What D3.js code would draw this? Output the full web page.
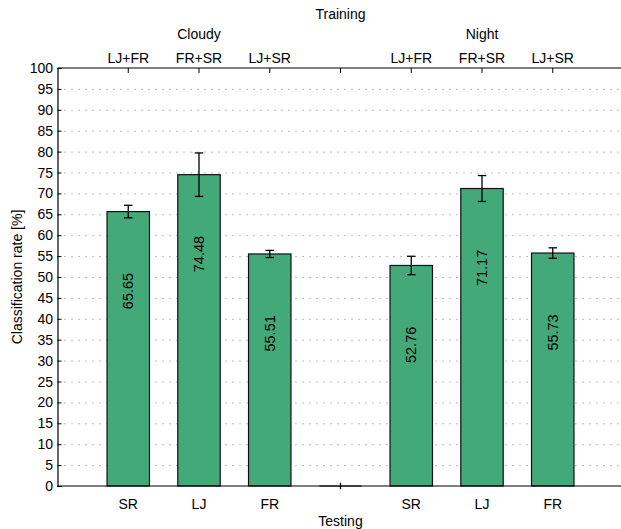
<!DOCTYPE html>
<html>
<head>
<meta charset="utf-8">
<script src="https://cdn.jsdelivr.net/npm/d3@7"></script>
<style>
  body { margin: 0; background: #fff; }
  text { font-family: "Liberation Sans", Arial, sans-serif; font-size: 14px; fill: #000; }
</style>
</head>
<body>
<svg id="chart" width="621" height="529"></svg>
<script>
// bar positions 1..7, slot 4 is the empty separator
var positions = [1, 2, 3, 4, 5, 6, 7];
var testing = ["SR", "LJ", "FR", "", "SR", "LJ", "FR"];
var training = ["LJ+FR", "FR+SR", "LJ+SR", "", "LJ+FR", "FR+SR", "LJ+SR"];
var groups = [{ name: "Cloudy", pos: 2 }, { name: "Night", pos: 6 }];
var rates = [65.65, 74.48, 55.51, 0, 52.76, 71.17, 55.73];
var errors = [1.5, 5.2, 0.85, 0.75, 2.2, 3.1, 1.25];
var yTicks = d3.range(0, 101, 5);

var svg = d3.select("#chart");

// plot box (right side runs past the picture edge, like the original)
var x = d3.scaleLinear().domain([0, 8]).range([57.5, 623.5]);
var y = d3.scaleLinear().domain([0, 100]).range([486, 68]);
var barW = x(0.6) - x(0);
var capW = x(0.12) - x(0);

// dotted grid
svg.append("g").selectAll("line")
  .data(yTicks.filter(function(d) { return d > 0 && d < 100; }))
  .enter().append("line")
  .attr("x1", x(0)).attr("x2", x(8))
  .attr("y1", function(d) { return y(d) + 0.5; })
  .attr("y2", function(d) { return y(d) + 0.5; })
  .attr("stroke", "#777")
  .attr("stroke-width", 1)
  .attr("stroke-dasharray", "1,6");

// bars
var bars = svg.append("g").selectAll("g")
  .data(positions.map(function(p, i) { return { p: p, v: rates[i], e: errors[i] }; }))
  .enter().append("g");

bars.filter(function(d) { return d.v > 0; }).append("rect")
  .attr("x", function(d) { return x(d.p) - barW / 2; })
  .attr("y", function(d) { return y(d.v); })
  .attr("width", barW)
  .attr("height", function(d) { return y(0) - y(d.v); })
  .attr("fill", "#43a978")
  .attr("stroke", "#111")
  .attr("stroke-width", 1.2);

bars.filter(function(d) { return d.v === 0; }).append("line")
  .attr("x1", function(d) { return x(d.p) - barW / 2; })
  .attr("x2", function(d) { return x(d.p) + barW / 2; })
  .attr("y1", y(0)).attr("y2", y(0))
  .attr("stroke", "#000").attr("stroke-width", 1.2);

// error bars
bars.append("line")
  .attr("x1", function(d) { return x(d.p); })
  .attr("x2", function(d) { return x(d.p); })
  .attr("y1", function(d) { return y(d.v - d.e); })
  .attr("y2", function(d) { return y(d.v + d.e); })
  .attr("stroke", "#000").attr("stroke-width", 1.3);
[-1, 1].forEach(function(s) {
  bars.filter(function(d) { return d.v > 0; }).append("line")
    .attr("x1", function(d) { return x(d.p) - capW / 2; })
    .attr("x2", function(d) { return x(d.p) + capW / 2; })
    .attr("y1", function(d) { return y(d.v + s * d.e); })
    .attr("y2", function(d) { return y(d.v + s * d.e); })
    .attr("stroke", "#000").attr("stroke-width", 1.3);
});

// value labels inside the bars, rotated
bars.filter(function(d) { return d.v > 0; }).append("text")
  .attr("transform", function(d) {
    return "translate(" + (x(d.p) + 5) + "," + y(d.v - 19) + ") rotate(-90)";
  })
  .attr("text-anchor", "middle")
  .style("font-size", "14.5px")
  .text(function(d) { return d.v.toFixed(2); });

// axes box lines
svg.append("line").attr("x1", x(0)).attr("x2", x(8)).attr("y1", y(100)).attr("y2", y(100))
  .attr("stroke", "#000").attr("stroke-width", 1.2);
svg.append("line").attr("x1", x(0)).attr("x2", x(8)).attr("y1", y(0)).attr("y2", y(0))
  .attr("stroke", "#000").attr("stroke-width", 1.2);

// left axis, ticks pointing in
var yAxis = svg.append("g")
  .attr("transform", "translate(" + x(0) + ",0)")
  .call(d3.axisRight(y).tickValues(yTicks).tickSize(4).tickFormat(""));
yAxis.select(".domain").attr("stroke-width", 1.2);
svg.append("g").selectAll("text")
  .data(yTicks).enter().append("text")
  .attr("x", 53)
  .attr("y", function(d) { return y(d) + 5; })
  .attr("text-anchor", "end")
  .text(function(d) { return d; });

// top ticks and training labels
svg.append("g").selectAll("line")
  .data(positions).enter().append("line")
  .attr("x1", function(d) { return x(d); }).attr("x2", function(d) { return x(d); })
  .attr("y1", y(100)).attr("y2", y(100) + 5)
  .attr("stroke", "#000");
svg.append("g").selectAll("text")
  .data(positions).enter().append("text")
  .attr("x", function(d) { return x(d); })
  .attr("y", 63)
  .attr("text-anchor", "middle")
  .text(function(d, i) { return training[i]; });

svg.append("g").selectAll("text")
  .data(groups).enter().append("text")
  .attr("x", function(d) { return x(d.pos); })
  .attr("y", 39)
  .attr("text-anchor", "middle")
  .text(function(d) { return d.name; });

svg.append("text").attr("x", x(4)).attr("y", 19)
  .attr("text-anchor", "middle").text("Training");

// bottom labels
svg.append("g").selectAll("text")
  .data(positions).enter().append("text")
  .attr("x", function(d) { return x(d); })
  .attr("y", 509)
  .attr("text-anchor", "middle")
  .text(function(d, i) { return testing[i]; });

svg.append("text").attr("x", x(4)).attr("y", 526)
  .attr("text-anchor", "middle").text("Testing");

svg.append("text")
  .attr("transform", "translate(22," + y(50) + ") rotate(-90)")
  .attr("text-anchor", "middle")
  .text("Classification rate [%]");
</script>
</body>
</html>
